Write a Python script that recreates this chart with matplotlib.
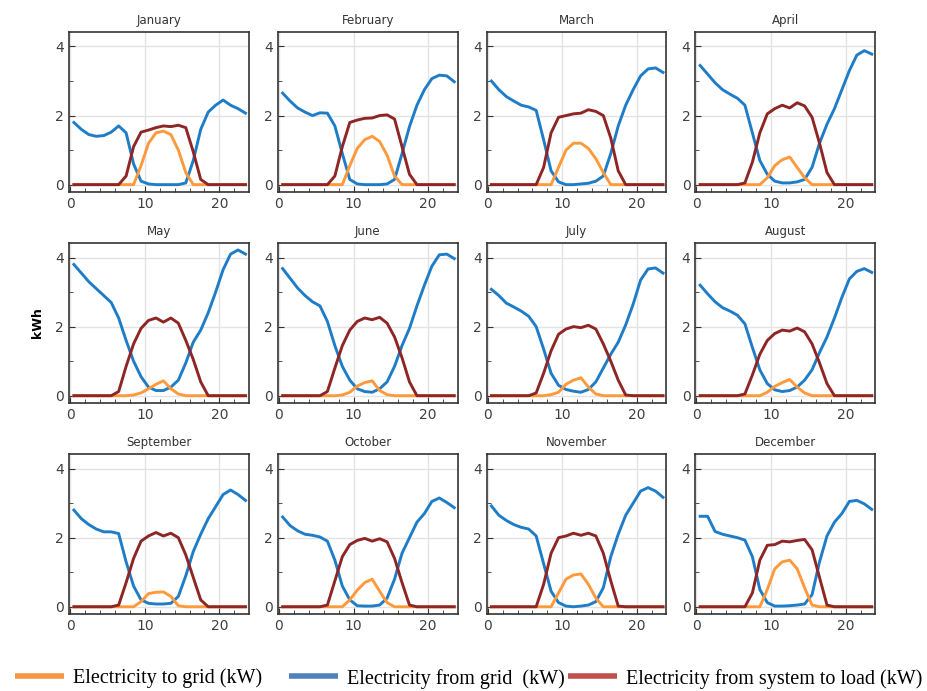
import matplotlib.pyplot as plt
from matplotlib.lines import Line2D
import numpy as np

# hourly averages, one row per month
months = ['January', 'February', 'March', 'April', 'May', 'June',
          'July', 'August', 'September', 'October', 'November', 'December']
hours = np.arange(24) + 0.5

from_grid = [
    [1.8, 1.6, 1.45, 1.4, 1.42, 1.52, 1.7, 1.5, 0.6, 0.1, 0.02, 0, 0, 0, 0, 0.05, 0.7, 1.6, 2.1, 2.3, 2.45, 2.3, 2.2, 2.07],
    [2.65, 2.42, 2.22, 2.1, 2.0, 2.08, 2.07, 1.7, 0.9, 0.15, 0.02, 0, 0, 0, 0.02, 0.15, 0.9, 1.68, 2.3, 2.75, 3.07, 3.17, 3.15, 2.98],
    [3.0, 2.75, 2.55, 2.42, 2.3, 2.25, 2.15, 1.3, 0.4, 0.08, 0, 0, 0.02, 0.04, 0.1, 0.25, 0.9, 1.7, 2.3, 2.75, 3.15, 3.35, 3.38, 3.25],
    [3.45, 3.2, 2.95, 2.75, 2.62, 2.5, 2.3, 1.5, 0.7, 0.3, 0.1, 0.05, 0.05, 0.08, 0.15, 0.5, 1.2, 1.75, 2.2, 2.75, 3.3, 3.75, 3.88, 3.78],
    [3.8, 3.55, 3.3, 3.1, 2.9, 2.7, 2.25, 1.6, 1.0, 0.55, 0.25, 0.15, 0.15, 0.25, 0.45, 0.95, 1.55, 1.9, 2.4, 3.0, 3.65, 4.1, 4.22, 4.1],
    [3.68, 3.4, 3.12, 2.9, 2.72, 2.6, 2.15, 1.45, 0.85, 0.45, 0.2, 0.12, 0.1, 0.2, 0.4, 0.85, 1.45, 1.95, 2.6, 3.2, 3.75, 4.08, 4.1, 3.97],
    [3.08, 2.9, 2.68, 2.57, 2.45, 2.3, 2.0, 1.35, 0.65, 0.3, 0.18, 0.13, 0.1, 0.18, 0.4, 0.8, 1.2, 1.55, 2.05, 2.65, 3.35, 3.67, 3.7, 3.55],
    [3.2, 2.95, 2.72, 2.55, 2.45, 2.33, 2.08, 1.4, 0.75, 0.35, 0.17, 0.12, 0.15, 0.25, 0.45, 0.75, 1.25, 1.7, 2.25, 2.85, 3.38, 3.6, 3.68, 3.57],
    [2.8, 2.55, 2.38, 2.25, 2.17, 2.17, 2.12, 1.3, 0.6, 0.2, 0.1, 0.08, 0.08, 0.1, 0.3, 0.9, 1.6, 2.1, 2.55, 2.9, 3.25, 3.38, 3.25, 3.08],
    [2.6, 2.35, 2.2, 2.1, 2.07, 2.02, 1.9, 1.35, 0.6, 0.2, 0.03, 0.02, 0.02, 0.05, 0.25, 0.8, 1.55, 2.0, 2.45, 2.7, 3.05, 3.15, 3.02, 2.87],
    [2.92, 2.65, 2.5, 2.38, 2.3, 2.25, 2.05, 1.25, 0.45, 0.12, 0.02, 0, 0.02, 0.05, 0.15, 0.55, 1.45, 2.1, 2.65, 3.0, 3.35, 3.45, 3.35, 3.17],
    [2.62, 2.62, 2.18, 2.1, 2.05, 2.0, 1.93, 1.45, 0.5, 0.12, 0.02, 0.02, 0.03, 0.05, 0.08, 0.35, 1.3, 2.05, 2.45, 2.7, 3.05, 3.08, 2.98, 2.82],
]

to_load = [
    [0, 0, 0, 0, 0, 0, 0, 0.25, 1.1, 1.52, 1.58, 1.65, 1.7, 1.68, 1.72, 1.65, 0.95, 0.15, 0, 0, 0, 0, 0, 0],
    [0, 0, 0, 0, 0, 0, 0, 0.25, 1.1, 1.8, 1.87, 1.92, 1.93, 2.0, 2.02, 1.9, 1.1, 0.3, 0, 0, 0, 0, 0, 0],
    [0, 0, 0, 0, 0, 0, 0, 0.5, 1.5, 1.95, 2.0, 2.05, 2.07, 2.17, 2.12, 2.0, 1.35, 0.4, 0, 0, 0, 0, 0, 0],
    [0, 0, 0, 0, 0, 0, 0.05, 0.65, 1.5, 2.05, 2.2, 2.3, 2.22, 2.37, 2.28, 1.95, 1.2, 0.35, 0, 0, 0, 0, 0, 0],
    [0, 0, 0, 0, 0, 0, 0.12, 0.85, 1.5, 1.95, 2.18, 2.25, 2.13, 2.25, 2.1, 1.6, 1.05, 0.4, 0, 0, 0, 0, 0, 0],
    [0, 0, 0, 0, 0, 0, 0.12, 0.8, 1.45, 1.9, 2.15, 2.25, 2.2, 2.27, 2.1, 1.7, 1.1, 0.4, 0, 0, 0, 0, 0, 0],
    [0, 0, 0, 0, 0, 0, 0.08, 0.65, 1.3, 1.78, 1.93, 2.0, 1.97, 2.04, 1.93, 1.5, 1.0, 0.45, 0.02, 0, 0, 0, 0, 0],
    [0, 0, 0, 0, 0, 0, 0.05, 0.6, 1.2, 1.6, 1.8, 1.9, 1.87, 1.96, 1.85, 1.5, 0.95, 0.35, 0, 0, 0, 0, 0, 0],
    [0, 0, 0, 0, 0, 0, 0.05, 0.7, 1.4, 1.9, 2.05, 2.15, 2.05, 2.13, 2.0, 1.5, 0.85, 0.2, 0, 0, 0, 0, 0, 0],
    [0, 0, 0, 0, 0, 0, 0.05, 0.75, 1.45, 1.8, 1.92, 1.98, 1.9, 1.97, 1.88, 1.4, 0.7, 0.05, 0, 0, 0, 0, 0, 0],
    [0, 0, 0, 0, 0, 0, 0, 0.65, 1.55, 2.0, 2.05, 2.13, 2.07, 2.13, 2.05, 1.55, 0.75, 0.02, 0, 0, 0, 0, 0, 0],
    [0, 0, 0, 0, 0, 0, 0, 0.4, 1.35, 1.78, 1.8, 1.9, 1.88, 1.92, 1.95, 1.65, 0.85, 0.05, 0, 0, 0, 0, 0, 0],
]

to_grid = [
    [0, 0, 0, 0, 0, 0, 0, 0, 0, 0.55, 1.2, 1.5, 1.55, 1.45, 1.0, 0.35, 0, 0, 0, 0, 0, 0, 0, 0],
    [0, 0, 0, 0, 0, 0, 0, 0, 0, 0.55, 1.05, 1.3, 1.4, 1.25, 0.85, 0.25, 0, 0, 0, 0, 0, 0, 0, 0],
    [0, 0, 0, 0, 0, 0, 0, 0, 0, 0.5, 1.0, 1.2, 1.2, 1.05, 0.75, 0.35, 0, 0, 0, 0, 0, 0, 0, 0],
    [0, 0, 0, 0, 0, 0, 0, 0, 0, 0.2, 0.55, 0.72, 0.8, 0.5, 0.2, 0, 0, 0, 0, 0, 0, 0, 0, 0],
    [0, 0, 0, 0, 0, 0, 0, 0, 0.02, 0.08, 0.2, 0.33, 0.43, 0.2, 0.05, 0, 0, 0, 0, 0, 0, 0, 0, 0],
    [0, 0, 0, 0, 0, 0, 0, 0, 0.02, 0.1, 0.28, 0.38, 0.43, 0.15, 0.03, 0, 0, 0, 0, 0, 0, 0, 0, 0],
    [0, 0, 0, 0, 0, 0, 0, 0, 0.03, 0.1, 0.33, 0.45, 0.52, 0.25, 0.05, 0, 0, 0, 0, 0, 0, 0, 0, 0],
    [0, 0, 0, 0, 0, 0, 0, 0, 0, 0.1, 0.27, 0.38, 0.47, 0.25, 0.08, 0, 0, 0, 0, 0, 0, 0, 0, 0],
    [0, 0, 0, 0, 0, 0, 0, 0, 0, 0.15, 0.38, 0.42, 0.43, 0.3, 0.03, 0, 0, 0, 0, 0, 0, 0, 0, 0],
    [0, 0, 0, 0, 0, 0, 0, 0, 0, 0.2, 0.48, 0.7, 0.8, 0.45, 0.12, 0, 0, 0, 0, 0, 0, 0, 0, 0],
    [0, 0, 0, 0, 0, 0, 0, 0, 0, 0.4, 0.8, 0.92, 0.95, 0.65, 0.25, 0, 0, 0, 0, 0, 0, 0, 0, 0],
    [0, 0, 0, 0, 0, 0, 0, 0, 0, 0.5, 1.1, 1.3, 1.35, 1.1, 0.55, 0.05, 0, 0, 0, 0, 0, 0, 0, 0],
]

c_to_grid = '#FF9A3C'
c_from_grid = '#1F7DC8'
c_load = '#8E2626'

fig, axes = plt.subplots(3, 4, figsize=(9.28, 6.91), dpi=100)
plt.subplots_adjust(left=0.0744, right=0.943, top=0.9537, bottom=0.1114,
                    wspace=0.161, hspace=0.32)

for i, ax in enumerate(axes.flat):
    ax.plot(hours, from_grid[i], color=c_from_grid, lw=2.1)
    ax.plot(hours, to_grid[i], color=c_to_grid, lw=2.1)
    ax.plot(hours, to_load[i], color=c_load, lw=2.1)
    ax.set_title(months[i], fontsize=8.5, color='#333333', pad=6)
    ax.set_xlim(-0.15, 23.95)
    ax.set_ylim(-0.21, 4.42)
    ax.set_xticks([0, 10, 20])
    ax.set_xticks(np.arange(2, 24, 2), minor=True)
    ax.set_yticks([0, 2, 4])
    ax.set_yticks([1, 3], minor=True)
    ax.grid(True, which='major', color='#e3e3e3', lw=1)
    ax.set_axisbelow(True)
    ax.tick_params(which='both', direction='in', labelsize=10, labelcolor='#404040',
                   color='#333333')
    ax.tick_params(which='major', length=4)
    ax.tick_params(which='minor', length=3)
    for s in ax.spines.values():
        s.set_color('#333333')
        s.set_linewidth(1.2)

axes[1, 0].set_ylabel('kWh', fontsize=9, fontweight='bold', labelpad=8)

# legend entries placed one by one to match the original spacing
leg_colors = ['#F79646', '#4F81BD', '#C0504D']
leg_labels = ['Electricity to grid (kW)', 'Electricity from grid  (kW)',
              'Electricity from system to load (kW)']
leg_x = [15, 289, 568]
for col, lab, x in zip(leg_colors, leg_labels, leg_x):
    h = Line2D([], [], color=col, lw=4, solid_capstyle='butt')
    fig.legend([h], [lab], loc='center left', bbox_to_anchor=(x / 928, 0.018),
               frameon=False, handlelength=2.45, handletextpad=0.45,
               borderpad=0, borderaxespad=0,
               prop={'family': 'Liberation Serif', 'size': 14.5})

plt.savefig('out.png')
